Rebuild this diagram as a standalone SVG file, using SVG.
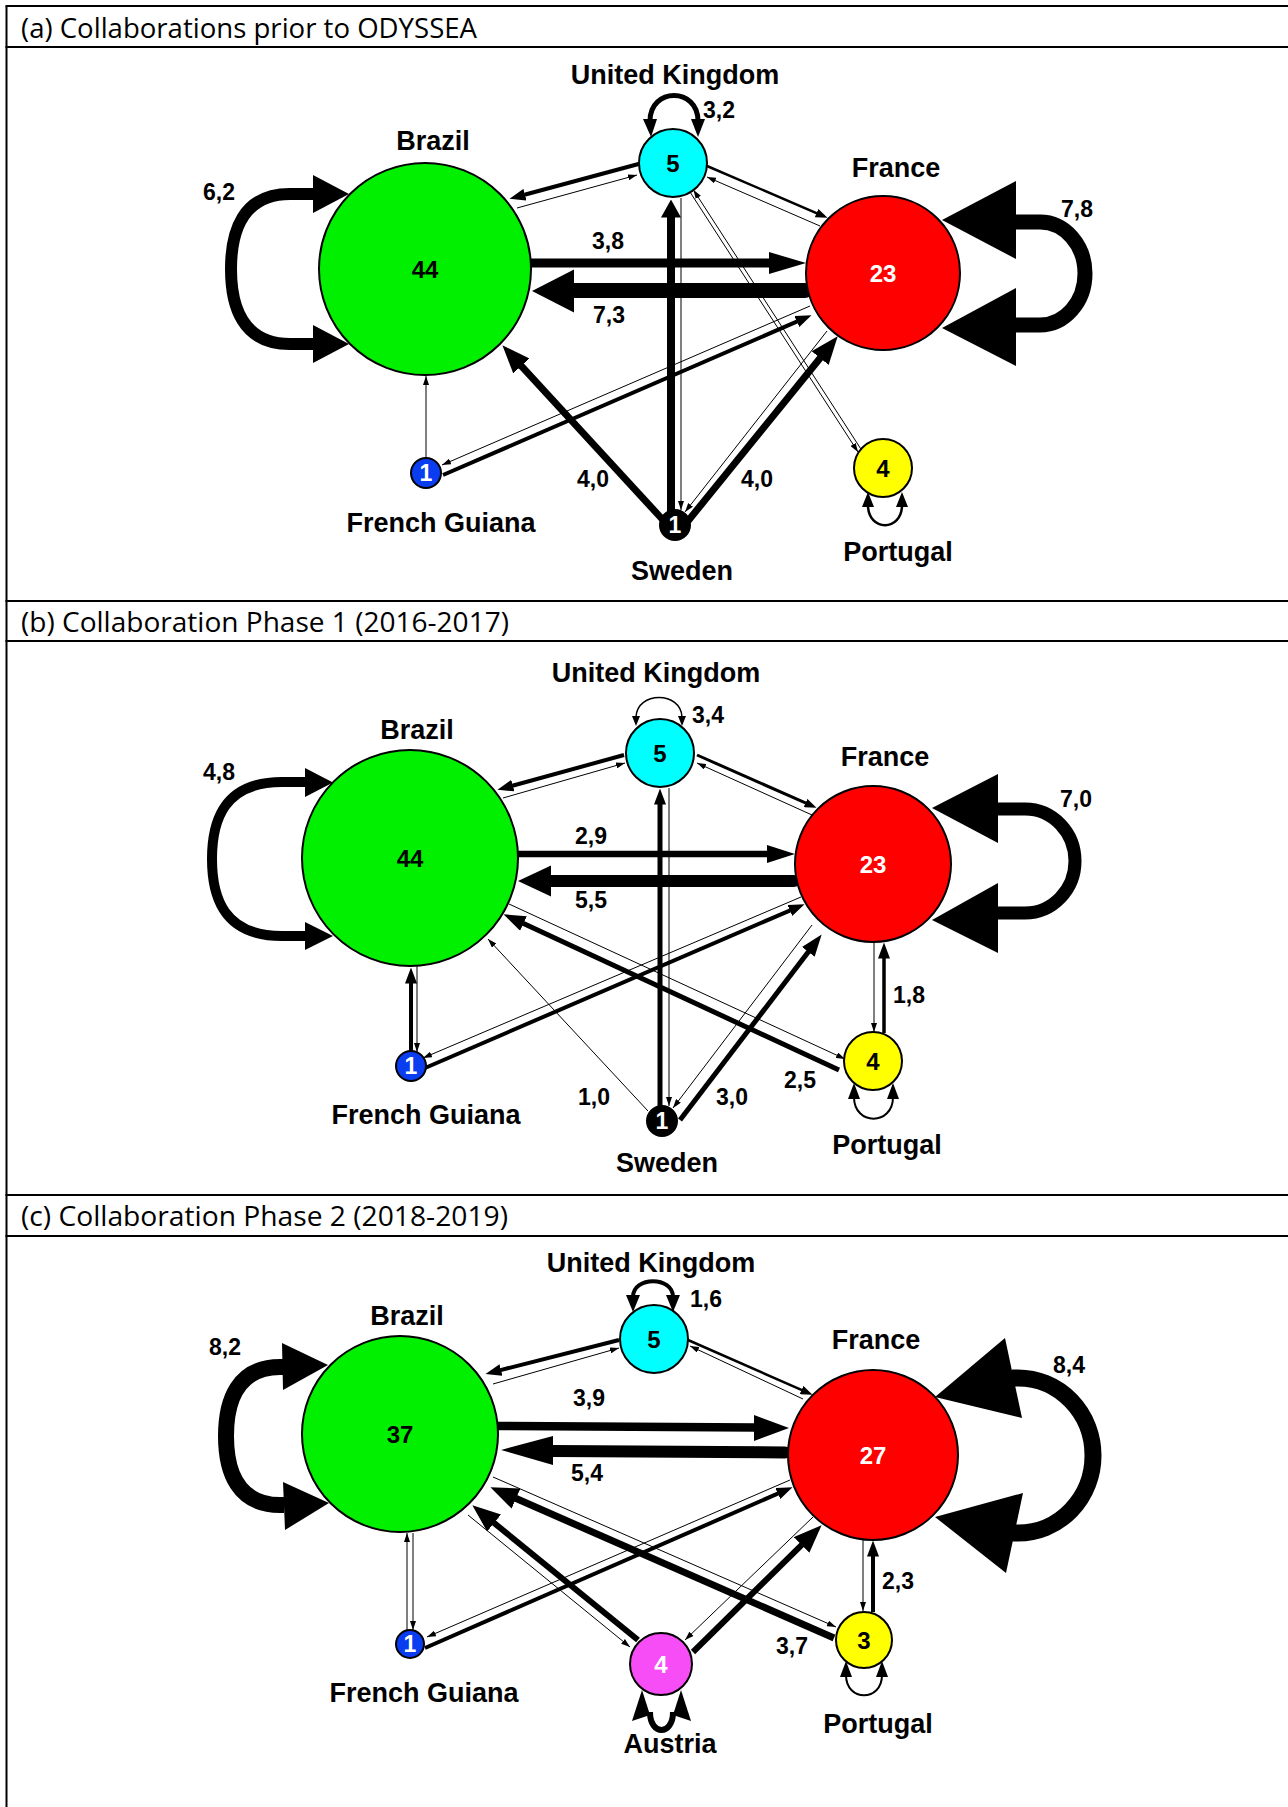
<svg xmlns="http://www.w3.org/2000/svg" width="1288" height="1807" viewBox="0 0 1288 1807">
<defs>
<style>
.frame{stroke:#000;stroke-width:2;fill:none}
.hdr{font-family:"Open Sans","Liberation Sans",sans-serif;font-size:26.5px;fill:#000}
.nm{font-family:"Liberation Sans",Arial,sans-serif;font-weight:bold;font-size:27px;text-anchor:middle;fill:#000}
.el{font-family:"Liberation Sans",Arial,sans-serif;font-weight:bold;font-size:23px;text-anchor:middle;fill:#000}
.num{font-family:"Liberation Sans",Arial,sans-serif;font-weight:bold;font-size:24px;text-anchor:middle;fill:#000}
.numw{font-family:"Liberation Sans",Arial,sans-serif;font-weight:bold;font-size:24px;text-anchor:middle;fill:#fff}
.nums{font-family:"Liberation Sans",Arial,sans-serif;font-weight:bold;font-size:23px;text-anchor:middle;fill:#fff}
.node{stroke:#000;stroke-width:2}
.t{stroke:#000;stroke-width:1;fill:none;marker-end:url(#tn)}
.l{stroke:#000;fill:none}
.ah{fill:#000;stroke:none}
</style>
<marker id="tn" markerUnits="userSpaceOnUse" viewBox="0 0 9 6" markerWidth="9" markerHeight="6" refX="9" refY="3" orient="auto"><path d="M0,0 L9,3 L0,6 z" fill="#000"/></marker>
<marker id="mA" markerUnits="userSpaceOnUse" viewBox="0 0 16 12" markerWidth="16" markerHeight="12" refX="0.5" refY="6" orient="auto"><path d="M0,0 L16,6 L0,12 z" fill="#000"/></marker>
<marker id="mB" markerUnits="userSpaceOnUse" viewBox="0 0 12 9" markerWidth="12" markerHeight="9" refX="0.5" refY="4.5" orient="auto"><path d="M0,0 L12,4.5 L0,9 z" fill="#000"/></marker>
<marker id="mC" markerUnits="userSpaceOnUse" viewBox="0 0 22 16" markerWidth="22" markerHeight="16" refX="0.5" refY="8" orient="auto"><path d="M0,0 L22,8 L0,16 z" fill="#000"/></marker>
<marker id="mD" markerUnits="userSpaceOnUse" viewBox="0 0 28 22" markerWidth="28" markerHeight="22" refX="0.5" refY="11" orient="auto"><path d="M0,0 L28,11 L0,22 z" fill="#000"/></marker>
<marker id="mE" markerUnits="userSpaceOnUse" viewBox="0 0 18 20" markerWidth="18" markerHeight="20" refX="0.5" refY="10" orient="auto"><path d="M0,0 L18,10 L0,20 z" fill="#000"/></marker>
</defs>
<rect width="1288" height="1807" fill="#fff"/>

<g id="frame">
<line class="frame" x1="6.5" y1="6" x2="6.5" y2="1807"/>
<line class="frame" x1="5.5" y1="6" x2="1288" y2="6"/>
<line class="frame" x1="5.5" y1="47" x2="1288" y2="47"/>
<line class="frame" x1="5.5" y1="601" x2="1288" y2="601"/>
<line class="frame" x1="5.5" y1="641" x2="1288" y2="641"/>
<line class="frame" x1="5.5" y1="1195" x2="1288" y2="1195"/>
<line class="frame" x1="5.5" y1="1236" x2="1288" y2="1236"/>
<text class="hdr" x="21" y="37.5" textLength="456" lengthAdjust="spacingAndGlyphs">(a) Collaborations prior to ODYSSEA</text>
<text class="hdr" x="21" y="631.5" textLength="488" lengthAdjust="spacingAndGlyphs">(b) Collaboration Phase 1 (2016-2017)</text>
<text class="hdr" x="21" y="1226" textLength="487" lengthAdjust="spacingAndGlyphs">(c) Collaboration Phase 2 (2018-2019)</text>
</g>

<!-- ================= PANEL A ================= -->
<g id="connectors-a">
<path class="l" stroke-width="12" d="M 314 194 L 290 194 C 242 194 231 232 231 269 C 231 306 242 344 290 344 L 314 344"/>
<polygon class="ah" points="313,175 349,194 313,213"/>
<polygon class="ah" points="313,325 349,344 313,363"/>
<path class="l" stroke-width="15" d="M 1014 222 L 1040 222 A 45 51.5 0 0 1 1040 325 L 1014 325"/>
<polygon class="ah" points="1016,181 942,220 1016,259"/>
<polygon class="ah" points="1016,288 942,328 1016,366"/>
<path class="l" stroke-width="5" d="M 650 121 C 650 87 698 87 698 121"/>
<polygon class="ah" points="643,119 657,119 651,137"/>
<polygon class="ah" points="691,119 705,119 698,137"/>
<path class="l" stroke-width="2.5" d="M 868 505 C 868 532 902 532 902 505"/>
<polygon class="ah" points="862,507 874,507 868,492"/>
<polygon class="ah" points="896,507 908,507 902,492"/>
<path class="l" stroke-width="9" d="M 531 263 L 770 263"/>
<polygon class="ah" points="769,252 806,263 769,274"/>
<path class="l" stroke-width="15" stroke-linecap="round" d="M 805 290.5 L 574 290.5"/>
<polygon class="ah" points="574,269.5 532,291 574,312.5"/>
<path class="l" stroke-width="4" marker-end="url(#mA)" d="M 638.5 164 L 524.5 194.8"/>
<path class="t" d="M 517 208 L 637 175"/>
<path class="l" stroke-width="2.5" marker-end="url(#mB)" d="M 707 166 L 817 213.3"/>
<path class="t" d="M 820 226 L 707 177"/>
<path class="l" stroke-width="8" marker-end="url(#mE)" d="M 671 512 L 671 217"/>
<path class="t" d="M 681 198 L 681 510"/>
<path class="l" stroke-width="7" marker-end="url(#mD)" d="M 663 520 L 521 365.6"/>
<path class="l" stroke-width="7" marker-end="url(#mD)" d="M 688 521 L 820.4 357.7"/>
<path class="t" d="M 827 331 L 685 512"/>
<path class="l" stroke-width="4" marker-end="url(#mA)" d="M 443 475 L 797.3 321.4"/>
<path class="t" d="M 810 306 L 442 465"/>
<path class="t" stroke-width="1.5" d="M 426 458 L 426 376"/>
<path class="t" d="M 690 192 L 858 452"/>
<path class="t" d="M 861.4 449.8 L 693.4 189.8"/>
<text class="el" x="719" y="118">3,2</text>
<text class="el" x="219" y="200">6,2</text>
<text class="el" x="608" y="249">3,8</text>
<text class="el" x="609" y="323">7,3</text>
<text class="el" x="1077" y="217">7,8</text>
<text class="el" x="593" y="487">4,0</text>
<text class="el" x="757" y="487">4,0</text>
</g>
<g id="a-brazil"><circle class="node" cx="425" cy="269" r="106" fill="#00f000"/><text class="num" x="425" y="278">44</text><text class="nm" x="433" y="150">Brazil</text></g>
<g id="a-uk"><circle class="node" cx="673" cy="163" r="34" fill="#00ffff"/><text class="num" x="673" y="172">5</text><text class="nm" x="675" y="84">United Kingdom</text></g>
<g id="a-france"><circle class="node" cx="883" cy="273" r="77" fill="#ff0000"/><text class="numw" x="883" y="282">23</text><text class="nm" x="896" y="177">France</text></g>
<g id="a-portugal"><circle class="node" cx="883" cy="468" r="29" fill="#ffff00"/><text class="num" x="883" y="477">4</text><text class="nm" x="898" y="561">Portugal</text></g>
<g id="a-sweden"><circle class="node" cx="675" cy="525" r="15" fill="#000"/><text class="nums" x="675" y="533">1</text><text class="nm" x="682" y="580">Sweden</text></g>
<g id="a-french-guiana"><circle class="node" cx="426" cy="473" r="15" fill="#0a3cf0"/><text class="nums" x="426" y="481">1</text><text class="nm" x="441" y="532">French Guiana</text></g>

<!-- ================= PANEL B ================= -->
<g id="connectors-b">
<path class="l" stroke-width="10" d="M 307 782 L 282 782 C 224 782 212 820 212 859 C 212 898 224 936 282 936 L 307 936"/>
<polygon class="ah" points="305,768 333,782.5 305,797"/>
<polygon class="ah" points="305,922 333,936 305,950"/>
<path class="l" stroke-width="13" d="M 997 809 L 1025 809 A 50 52 0 0 1 1025 913 L 997 913"/>
<polygon class="ah" points="998,774 932,808 998,843"/>
<polygon class="ah" points="998,883 932,920 998,953"/>
<path class="l" stroke-width="1.5" d="M 636 717 C 637 691 681 691 682 717"/>
<polygon class="ah" points="632,716 640,716 636,726"/>
<polygon class="ah" points="678,716 686,716 682,726"/>
<path class="l" stroke-width="2" d="M 854 1097 C 854 1126 893 1126 893 1097"/>
<polygon class="ah" points="848,1099 860,1099 854,1083"/>
<polygon class="ah" points="887,1099 899,1099 893,1083"/>
<path class="l" stroke-width="6.5" d="M 518 854 L 768 854"/>
<polygon class="ah" points="767,845 795,854 767,863"/>
<path class="l" stroke-width="12" stroke-linecap="round" d="M 794 881 L 551 881"/>
<polygon class="ah" points="551,865.5 518,881 551,896.5"/>
<path class="l" stroke-width="4" marker-end="url(#mA)" d="M 624 755 L 512.4 785.75"/>
<path class="t" d="M 503 798 L 625 763"/>
<path class="l" stroke-width="3" marker-end="url(#mB)" d="M 697 755 L 806 803.2"/>
<path class="t" d="M 812 815 L 697 763"/>
<path class="l" stroke-width="5" marker-end="url(#mA)" d="M 660 1106 L 660 804"/>
<path class="t" d="M 669 788 L 669 1106"/>
<path class="l" stroke-width="5" marker-end="url(#mC)" d="M 680 1120 L 808.6 951.5"/>
<path class="t" d="M 812 925 L 673 1108"/>
<path class="t" stroke-width="1.3" d="M 648 1111 L 488 939"/>
<path class="l" stroke-width="4" marker-end="url(#mA)" d="M 411 1051 L 411 983"/>
<path class="t" d="M 417 966 L 417 1052"/>
<path class="l" stroke-width="4" marker-end="url(#mA)" d="M 425 1068 L 790.3 910.3"/>
<path class="t" d="M 801 897 L 423 1058"/>
<path class="l" stroke-width="5" marker-end="url(#mC)" d="M 839 1070 L 523 923.3"/>
<path class="t" d="M 509 904 L 845 1059"/>
<path class="l" stroke-width="3.5" marker-end="url(#mA)" d="M 884 1033 L 884 958"/>
<path class="t" d="M 874 942 L 874 1032"/>
<text class="el" x="219" y="780">4,8</text>
<text class="el" x="708" y="723">3,4</text>
<text class="el" x="1076" y="807">7,0</text>
<text class="el" x="591" y="844">2,9</text>
<text class="el" x="591" y="908">5,5</text>
<text class="el" x="909" y="1003">1,8</text>
<text class="el" x="800" y="1088">2,5</text>
<text class="el" x="594" y="1105">1,0</text>
<text class="el" x="732" y="1105">3,0</text>
</g>
<g id="b-brazil"><circle class="node" cx="410" cy="858" r="108" fill="#00f000"/><text class="num" x="410" y="867">44</text><text class="nm" x="417" y="739">Brazil</text></g>
<g id="b-uk"><circle class="node" cx="660" cy="753" r="34" fill="#00ffff"/><text class="num" x="660" y="762">5</text><text class="nm" x="656" y="682">United Kingdom</text></g>
<g id="b-france"><circle class="node" cx="873" cy="864" r="78" fill="#ff0000"/><text class="numw" x="873" y="873">23</text><text class="nm" x="885" y="766">France</text></g>
<g id="b-portugal"><circle class="node" cx="873" cy="1061" r="29" fill="#ffff00"/><text class="num" x="873" y="1070">4</text><text class="nm" x="887" y="1154">Portugal</text></g>
<g id="b-sweden"><circle class="node" cx="662" cy="1121" r="15" fill="#000"/><text class="nums" x="662" y="1129">1</text><text class="nm" x="667" y="1172">Sweden</text></g>
<g id="b-french-guiana"><circle class="node" cx="411" cy="1066" r="15" fill="#0a3cf0"/><text class="nums" x="411" y="1074">1</text><text class="nm" x="426" y="1124">French Guiana</text></g>

<!-- ================= PANEL C ================= -->
<g id="connectors-c">
<path class="l" stroke-width="16" d="M 284 1367 L 280 1367 C 238 1367 226 1400 226 1436 C 226 1472 238 1505 280 1505 L 284 1505"/>
<polygon class="ah" points="282,1343 328,1365 283,1390"/>
<polygon class="ah" points="283,1482 329,1503 285,1530"/>
<path class="l" stroke-width="17" d="M 1012 1378 L 1018 1378 A 75 77.5 0 0 1 1018 1533 L 1012 1533"/>
<polygon class="ah" points="1005,1338 935,1397 1022,1418"/>
<polygon class="ah" points="1023,1493 935,1517 1006,1573"/>
<path class="l" stroke-width="4" d="M 633 1297 C 633 1276 673 1276 673 1297"/>
<polygon class="ah" points="626,1295 640,1295 633,1312"/>
<polygon class="ah" points="666,1295 680,1295 673,1312"/>
<path class="l" stroke-width="2" d="M 846 1675 C 846 1702 882 1702 882 1675"/>
<polygon class="ah" points="840,1677 852,1677 846,1661"/>
<polygon class="ah" points="876,1677 888,1677 882,1661"/>
<path class="l" stroke-width="6" d="M 650 1712 C 650 1736 673 1736 673 1712"/>
<polygon class="ah" points="632,1721 650,1715 642,1690"/>
<polygon class="ah" points="691,1721 673,1715 681,1690"/>
<path class="l" stroke-width="8.5" d="M 498 1426 L 755 1427.5"/>
<polygon class="ah" points="754,1415 789,1428 754,1441"/>
<path class="l" stroke-width="12" stroke-linecap="round" d="M 785 1452.5 L 553 1451"/>
<polygon class="ah" points="553,1436 501,1450 553,1465"/>
<path class="l" stroke-width="4" marker-end="url(#mA)" d="M 619 1340 L 500.5 1370.1"/>
<path class="t" d="M 493 1384 L 619 1348"/>
<path class="l" stroke-width="2.5" marker-end="url(#mB)" d="M 688 1340 L 802 1390.2"/>
<path class="t" d="M 803 1399 L 690 1346"/>
<path class="t" d="M 407 1630 L 407 1533"/>
<path class="t" d="M 413 1533 L 413 1630"/>
<path class="l" stroke-width="4" marker-end="url(#mA)" d="M 425 1648 L 778.3 1493.4"/>
<path class="t" d="M 790 1480 L 427 1637"/>
<path class="l" stroke-width="6" marker-end="url(#mD)" d="M 638 1640 L 493.7 1522.7"/>
<path class="t" d="M 468 1515 L 630 1647"/>
<path class="l" stroke-width="6" marker-end="url(#mD)" d="M 693 1652 L 802 1544.6"/>
<path class="t" d="M 813 1517 L 685 1640"/>
<path class="l" stroke-width="7" marker-end="url(#mD)" d="M 834 1638 L 515.6 1498.3"/>
<path class="t" d="M 493 1477 L 836 1627"/>
<path class="l" stroke-width="4" marker-end="url(#mA)" d="M 873 1612 L 873 1556"/>
<path class="t" d="M 863 1540 L 863 1611"/>
<text class="el" x="225" y="1355">8,2</text>
<text class="el" x="706" y="1307">1,6</text>
<text class="el" x="1069" y="1373">8,4</text>
<text class="el" x="589" y="1406">3,9</text>
<text class="el" x="587" y="1481">5,4</text>
<text class="el" x="898" y="1589">2,3</text>
<text class="el" x="792" y="1654">3,7</text>
</g>
<g id="c-brazil"><circle class="node" cx="400" cy="1434" r="98" fill="#00f000"/><text class="num" x="400" y="1443">37</text><text class="nm" x="407" y="1325">Brazil</text></g>
<g id="c-uk"><circle class="node" cx="654" cy="1339" r="34" fill="#00ffff"/><text class="num" x="654" y="1348">5</text><text class="nm" x="651" y="1272">United Kingdom</text></g>
<g id="c-france"><circle class="node" cx="873" cy="1455" r="85" fill="#ff0000"/><text class="numw" x="873" y="1464">27</text><text class="nm" x="876" y="1349">France</text></g>
<g id="c-portugal"><circle class="node" cx="864" cy="1640" r="28" fill="#ffff00"/><text class="num" x="864" y="1649">3</text><text class="nm" x="878" y="1733">Portugal</text></g>
<g id="c-austria"><circle class="node" cx="661" cy="1664" r="31" fill="#f64df6"/><text class="numw" x="661" y="1673">4</text><text class="nm" x="670" y="1753">Austria</text></g>
<g id="c-french-guiana"><circle class="node" cx="410" cy="1644" r="14" fill="#0a3cf0"/><text class="nums" x="410" y="1652">1</text><text class="nm" x="424" y="1702">French Guiana</text></g>
</svg>
